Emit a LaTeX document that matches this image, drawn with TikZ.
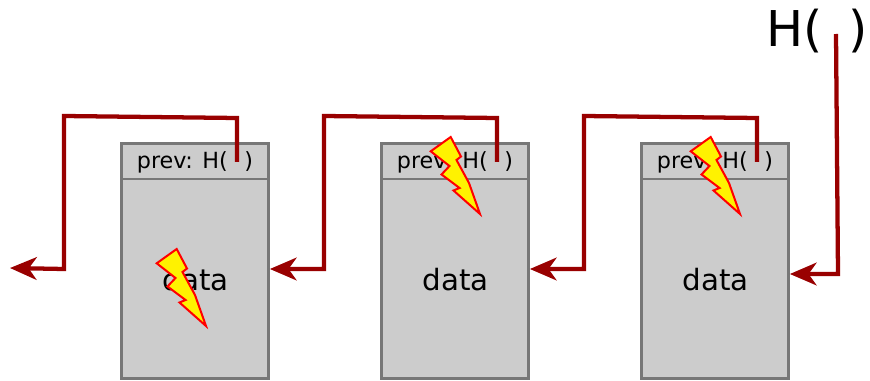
\documentclass[tikz,border=0pt]{standalone}
\usepackage{fontspec}
\setmainfont{DejaVu Sans}
\usetikzlibrary{arrows.meta}
\definecolor{chain}{HTML}{990000}
\definecolor{boxfill}{HTML}{CCCCCC}
\definecolor{boxline}{HTML}{777777}
\tikzset{
  x=0.75pt,y=-0.75pt,
  block/.style={draw=boxline,fill=boxfill,line width=1.8pt,minimum width=110.5pt,minimum height=176pt,inner sep=0pt,rectangle},
  rule/.style={draw=boxline,line width=1.8pt},
  chainline/.style={draw=chain,line width=3.2pt,line join=miter,-{Stealth[length=20pt,width=17pt,inset=6pt]}},
  datatext/.style={font=\fontsize{22}{26}\selectfont,inner sep=0pt},
  prevtext/.style={font=\fontsize{16.7}{20}\selectfont,inner sep=0pt},
  bigtext/.style={font=\fontsize{37}{44}\selectfont,inner sep=0pt},
  bolt/.style={draw=red,fill=yellow,line width=1.5pt,line join=miter},
}
\newcommand{\lightning}[2]{%
  \draw[bolt,shift={(#1,#2)}] (176.7,249) -- (156.7,263.3) -- (175.5,278) -- (167.5,286.5) -- (185.5,300) -- (179.5,302.5) -- (206,326) -- (195,295) -- (182.5,272) -- (187,268.5) -- cycle;}
\begin{document}
\begin{tikzpicture}
\useasboundingbox (0,0) rectangle (870,381);
\node[block] (b1) at (195,261) {};
\node[block] (b2) at (455,261) {};
\node[block] (b3) at (715,261) {};
\draw[rule] (b1.west |- 0,179) coordinate (r1a) -- (b1.east |- 0,179) coordinate (r1b);
\draw[rule] (b2.west |- 0,179) coordinate (r2a) -- (b2.east |- 0,179) coordinate (r2b);
\draw[rule] (b3.west |- 0,179) coordinate (r3a) -- (b3.east |- 0,179) coordinate (r3b);
\node[prevtext] (p1) at (195,162) {prev: H(\hspace{0.75em})};
\node[prevtext] (p2) at (455,162) {prev: H(\hspace{0.75em})};
\node[prevtext] (p3) at (715,162) {prev: H(\hspace{0.75em})};
\node[datatext] (d1) at (195.5,280) {data};
\node[datatext] (d2) at (455.5,280) {data};
\node[datatext] (d3) at (715.5,280) {data};
\node[bigtext] (h) at (817,31) {H(\hspace{0.52em})};
\coordinate (s0) at (836,34);
\coordinate (s1) at (237,162);
\coordinate (s2) at (497,162);
\coordinate (s3) at (757,162);
\coordinate (e0) at (10,268);
\draw[chainline] (s0) -- (838,274) -- (b3.east |- 0,274);
\draw[chainline] (s3) -- (757,118) -- (584,116) -- (584,269) -- (b2.east |- 0,269);
\draw[chainline] (s2) -- (497,118) -- (324,116) -- (324,269) -- (b1.east |- 0,269);
\draw[chainline] (s1) -- (237,118) -- (64,116) -- (64,269) -- (e0);
\lightning{0}{0}
\lightning{274}{-112}
\lightning{534}{-112}
\end{tikzpicture}
\end{document}
